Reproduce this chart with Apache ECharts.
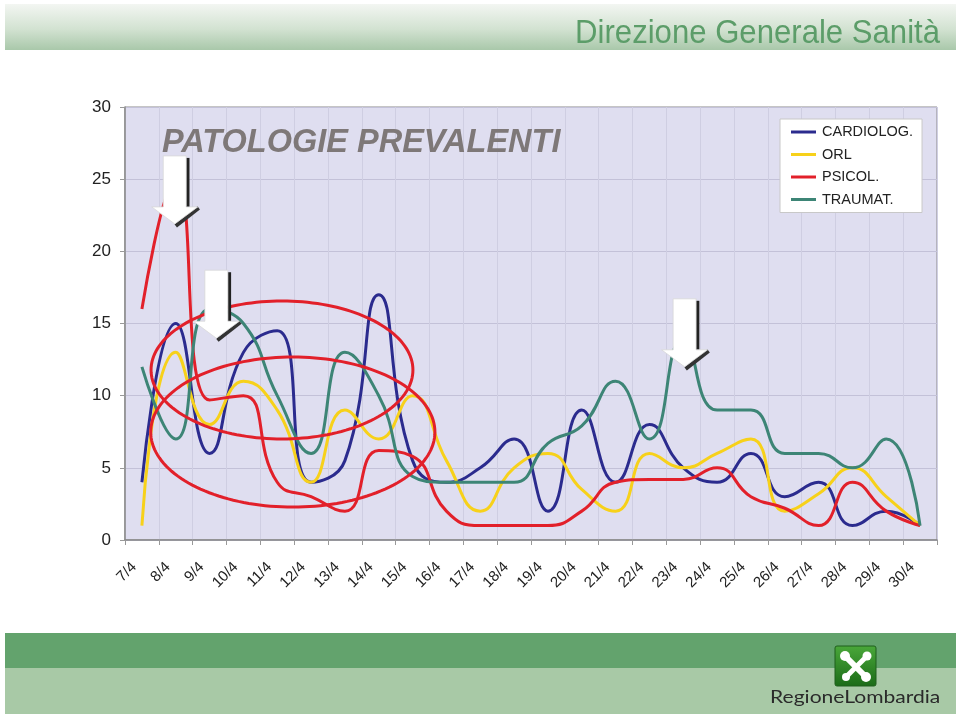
<!DOCTYPE html>
<html>
<head>
<meta charset="utf-8">
<script src="https://cdn.jsdelivr.net/npm/echarts@6/dist/echarts.min.js"></script>
<style>
html,body{margin:0;padding:0;background:#fff;}
#chart{width:960px;height:716px;}
</style>
</head>
<body>
<div id="chart"></div>
<script>
// ---- data ----
const categories = ['7/4','8/4','9/4','10/4','11/4','12/4','13/4','14/4','15/4','16/4','17/4','18/4','19/4','20/4','21/4','22/4','23/4','24/4','25/4','26/4','27/4','28/4','29/4','30/4'];
const cardiolog = [4, 15, 6, 13, 14.5, 4, 5.5, 17, 5.5, 4, 5, 7, 2, 9, 4, 8, 5, 4, 6, 3, 4, 1, 2, 1];
const orl       = [1, 13, 8, 11, 9, 4, 9, 7, 10, 5.5, 2, 5, 6, 3.5, 2, 6, 5, 6, 7, 2, 3.2, 5, 3, 1];
const psicol    = [16, 25, 9.7, 10, 4, 3, 2, 6.2, 5.8, 2, 1, 1, 1, 2, 4, 4.2, 4.2, 5, 3, 2.2, 1, 4, 2, 1];
const traumat   = [12, 7, 16, 15, 10, 6, 13, 10, 4.4, 4, 4, 4, 6.7, 7.9, 11, 7, 14, 9, 9, 6, 6, 5, 7, 1];
const seriesNames = ['CARDIOLOG.', 'ORL', 'PSICOL.', 'TRAUMAT.'];
const yTicks = [0, 5, 10, 15, 20, 25, 30];

// annotation anchors in data units: [categoryIndex, value]
const ellipses = [
  {c: [4.14, 11.78], rx: 3.87, ry: 4.78},
  {c: [4.46, 7.48], rx: 4.2, ry: 5.2}
];
const arrowTips = [[0.97, 21.9], [2.2, 13.98], [16.04, 12.0]];

const colors = ['#2b2b8e', '#f7d11a', '#e2202a', '#3d8576'];

const chart = echarts.init(document.getElementById('chart'), null, {renderer: 'canvas'});

function mkSeries(name, data, color) {
  return {
    name: name, type: 'line', data: data, smooth: true, symbol: 'none',
    lineStyle: {width: 3, color: color}, itemStyle: {color: color}, z: 3
  };
}

const staticGraphics = [
  {type: 'rect', shape: {x: 5, y: 4, width: 951, height: 46}, z: -10,
   style: {fill: new echarts.graphic.LinearGradient(0, 0, 0, 1, [
     {offset: 0, color: '#f3f6f2'}, {offset: 0.55, color: '#d2e2d1'}, {offset: 1, color: '#a9c8aa'}])}},
  {type: 'text', x: 940, y: 17, scaleX: 0.915, z: 5,
   style: {text: 'Direzione Generale Sanità', fill: '#5c9d69', align: 'right', verticalAlign: 'top',
           font: '34px "Liberation Sans", Arial, sans-serif'}},
  {type: 'rect', shape: {x: 5, y: 633, width: 951, height: 35}, z: -10, style: {fill: '#63a36d'}},
  {type: 'rect', shape: {x: 5, y: 668, width: 951, height: 46}, z: -10, style: {fill: '#a8c9a6'}},
  {type: 'rect', shape: {x: 835, y: 646, width: 41, height: 40, r: 2}, z: 5,
   style: {fill: new echarts.graphic.LinearGradient(0, 0, 0, 1, [
     {offset: 0, color: '#4aa83a'}, {offset: 1, color: '#1b6b18'}]), stroke: '#1f5f1c', lineWidth: 1}},
  {type: 'line', shape: {x1: 845, y1: 656, x2: 866, y2: 677}, z: 6, style: {stroke: '#fff', lineWidth: 6, lineCap: 'round'}},
  {type: 'line', shape: {x1: 867, y1: 656, x2: 846, y2: 677}, z: 6, style: {stroke: '#fff', lineWidth: 5, lineCap: 'round'}},
  {type: 'circle', shape: {cx: 845, cy: 656, r: 5}, z: 6, style: {fill: '#fff'}},
  {type: 'circle', shape: {cx: 867, cy: 656, r: 4.5}, z: 6, style: {fill: '#fff'}},
  {type: 'circle', shape: {cx: 866, cy: 677, r: 5}, z: 6, style: {fill: '#fff'}},
  {type: 'circle', shape: {cx: 846, cy: 677, r: 4}, z: 6, style: {fill: '#fff'}},
  {type: 'text', x: 770, y: 688, scaleX: 1.17, z: 6,
   style: {text: 'RegioneLombardia', fill: '#2a2a2a', align: 'left', verticalAlign: 'top',
           font: '18px Lato, "Noto Sans", sans-serif'}}
];

const option = {
  animation: false,
  backgroundColor: '#ffffff',
  title: {
    text: 'PATOLOGIE PREVALENTI', left: 157, top: 122,
    textStyle: {fontFamily: '"Liberation Sans", Arial, sans-serif', fontSize: 32.5, fontWeight: 'bold', fontStyle: 'italic', color: '#7e7878'}
  },
  legend: {
    data: seriesNames, orient: 'vertical', left: 780, top: 119,
    backgroundColor: '#ffffff', borderColor: '#c8c8c8', borderWidth: 1,
    padding: [5, 9, 5, 11], itemGap: 6.5, itemWidth: 25, itemHeight: 3, icon: 'rect',
    textStyle: {fontFamily: '"Liberation Sans", Arial, sans-serif', fontSize: 14.5, color: '#222', lineHeight: 16, padding: [0, 0, 0, 1]}
  },
  grid: {
    left: 125, right: 23, top: 107, bottom: 176, show: true,
    backgroundColor: '#dfdef0', borderColor: '#8a8a8a', borderWidth: 1, containLabel: false
  },
  xAxis: {
    type: 'category', data: categories, boundaryGap: true,
    axisLine: {lineStyle: {color: '#888', width: 1.5}},
    axisTick: {show: true, length: 5, lineStyle: {color: '#999'}},
    axisLabel: {rotate: 45, margin: 17, padding: [0, 11, 0, 0], fontSize: 15, color: '#222', fontFamily: '"Liberation Sans", Arial, sans-serif'},
    splitLine: {show: true, lineStyle: {color: '#cfcee2', width: 1}}
  },
  yAxis: {
    type: 'value', min: yTicks[0], max: yTicks[yTicks.length - 1], interval: 5,
    axisLine: {show: true, lineStyle: {color: '#888', width: 1.5}},
    axisTick: {show: true, length: 5, lineStyle: {color: '#999'}},
    axisLabel: {fontSize: 17, color: '#222', margin: 14, fontFamily: '"Liberation Sans", Arial, sans-serif'},
    splitLine: {show: true, lineStyle: {color: '#c3c1d8', width: 1}}
  },
  series: [
    mkSeries(seriesNames[0], cardiolog, colors[0]),
    mkSeries(seriesNames[1], orl, colors[1]),
    mkSeries(seriesNames[2], psicol, colors[2]),
    mkSeries(seriesNames[3], traumat, colors[3])
  ],
  graphic: staticGraphics
};
chart.setOption(option);

// ---- annotations anchored to the data space (fractional category positions interpolated) ----
const p0 = chart.convertToPixel({xAxisIndex: 0, yAxisIndex: 0}, [0, 0]);
const p1 = chart.convertToPixel({xAxisIndex: 0, yAxisIndex: 0}, [1, 1]);
const stepX = p1[0] - p0[0], stepY = p1[1] - p0[1];
function px(ci, v) { return [p0[0] + ci * stepX, p0[1] + v * stepY]; }
const annot = [];
ellipses.forEach(function (e) {
  const c = px(e.c[0], e.c[1]);
  const rxp = Math.abs(e.rx * stepX), ryp = Math.abs(e.ry * stepY);
  const pts = [];
  for (let k = 0; k < 160; k++) {
    const t = k / 160 * Math.PI * 2;
    pts.push([c[0] + rxp * Math.cos(t), c[1] + ryp * Math.sin(t)]);
  }
  annot.push({type: 'polygon', shape: {points: pts}, z: 20, silent: true,
    style: {fill: 'none', stroke: '#e2202a', lineWidth: 3}});
});
arrowTips.forEach(function (t) {
  const p = px(t[0], t[1]);
  const x = p[0], y = p[1];
  const sw = 11.5, hw = 23, hh = 17, sh = 51;
  annot.push({type: 'polyline', z: 30, silent: true,
    shape: {points: [[x + sw + 1.5, y - hh - sh + 2], [x + sw + 1.5, y - hh]]},
    style: {stroke: '#222', lineWidth: 3.5}});
  annot.push({type: 'polyline', z: 30, silent: true,
    shape: {points: [[x + hw + 1, y - hh + 1], [x + 1, y + 2]]},
    style: {stroke: '#333', lineWidth: 4}});
  annot.push({type: 'polygon', z: 31, silent: true,
    shape: {points: [[x - sw, y - hh - sh], [x + sw, y - hh - sh], [x + sw, y - hh], [x + hw, y - hh], [x, y], [x - hw, y - hh], [x - sw, y - hh]]},
    style: {fill: '#ffffff', stroke: '#d8d8d8', lineWidth: 0.8}});
});
chart.setOption({graphic: staticGraphics.concat(annot)}, {replaceMerge: ['graphic']});
</script>
</body>
</html>
